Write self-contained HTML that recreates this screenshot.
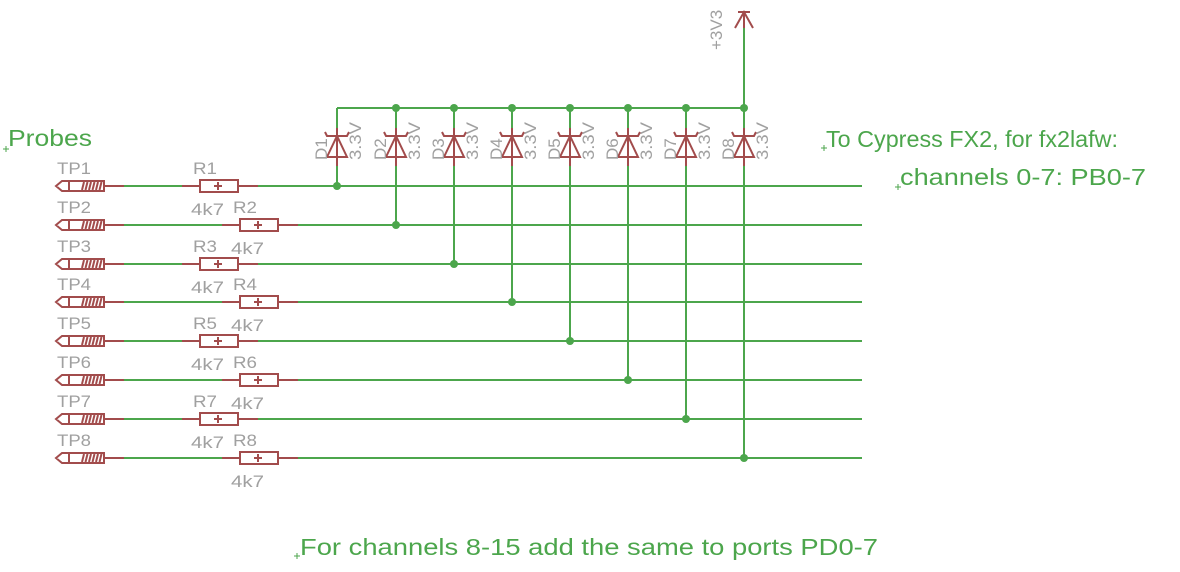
<!DOCTYPE html>
<html><head><meta charset="utf-8"><style>
body{margin:0;background:#fff;}
svg{display:block;font-family:"Liberation Sans",sans-serif;}
.g{stroke:#4ca64c;stroke-width:2;fill:none}
.r{stroke:#a24c4c;stroke-width:2;fill:none}
.lab{fill:#a0a0a0;font-size:17px}
.gt{fill:#4ca64c;font-size:23px}
</style></head><body>
<svg id="s" width="1180" height="572">
<text class="gt" x="8" y="146" textLength="84" lengthAdjust="spacingAndGlyphs">Probes</text>
<text class="gt" x="826" y="147" textLength="292" lengthAdjust="spacingAndGlyphs">To Cypress FX2, for fx2lafw:</text>
<text class="gt" x="900" y="185" textLength="246" lengthAdjust="spacingAndGlyphs">channels 0-7: PB0-7</text>
<text class="gt" x="300" y="555" textLength="578" lengthAdjust="spacingAndGlyphs">For channels 8-15 add the same to ports PD0-7</text>
<g class="g">
<path d="M3 149h6M6 146v6M821 148h6M824 145v6M895 187h6M898 184v6M294 556h6M297 553v6" stroke-width="1"/>
</g>
<line class="g" x1="337" y1="108" x2="744" y2="108"/>
<line class="g" x1="744" y1="108" x2="744" y2="28"/>
<path class="r" d="M744 28V12 M735 28L744 12L753 28M738 12h12"/>
<text class="lab" transform="translate(722,50) rotate(-90)">+3V3</text>
<g id="rows"></g>
</svg>
<script>
const rowsY=[186,225,264,302,341,380,419,458];
const diodeX=[337,396,454,512,570,628,686,744];
const NS="http://www.w3.org/2000/svg";
const g=document.getElementById('rows');
function el(t,a,txt){const e=document.createElementNS(NS,t);for(const k in a)e.setAttribute(k,a[k]);if(txt)e.textContent=txt;g.appendChild(e);return e;}
rowsY.forEach((y,i)=>{
  const odd=i%2===0;const n=i+1;
  const rx=odd?200:240;
  let p=el('path',{class:'r',d:`M56 ${y}l6 -5h7v10h-7z M69 ${y-5}h35v10h-35z M104 ${y}h20 M${rx-18} ${y}h18 M${rx+38} ${y}h20 M${rx+14} ${y}h8 M${rx+18} ${y-4}v8`});
  
  
  let spr=el('path',{class:'r','stroke-width':1,d:Array.from({length:6},(_,k)=>`M${82+k*3.5} ${y+4}l2 -8`).join(' ')});
  
  
  let box=el('rect',{class:'r',x:rx,y:y-6,width:38,height:12});
  
  
  let w=el('path',{class:'g',d:`M124 ${y}H${rx-18} M${rx+58} ${y}H862`});
  
  
  let t=el('text',{class:'lab',x:57,y:y-12,textLength:34,lengthAdjust:'spacingAndGlyphs'},'TP'+n);
  
  
  let r=el('text',{class:'lab',x:rx-7,y:y-12,textLength:24,lengthAdjust:'spacingAndGlyphs'},'R'+n);
  
  
  let v=el('text',{class:'lab',x:rx-9,y:y+29,textLength:33,lengthAdjust:'spacingAndGlyphs'},'4k7');
  
  
  const x=diodeX[i];
  let dw=el('path',{class:'g',d:`M${x} 108V128 M${x} 166V${y}`});
  
  
  let d=el('path',{class:'r',d:`M${x} 128V166 M${x-10} 157H${x+10}L${x} 136Z M${x-12} 132l2 4H${x+10}l2 -4`});
  
  
  let dl=el('text',{class:'lab',transform:`translate(${x-10},160) rotate(-90)`},'D'+n);
  
  
  let dv=el('text',{class:'lab',transform:`translate(${x+24},160) rotate(-90)`,textLength:38,lengthAdjust:'spacingAndGlyphs'},'3.3V');
  
  
  let j=el('circle',{cx:x,cy:y,r:4,fill:'#4ca64c'});
  
  
  if(i>0){let j2=el('circle',{cx:x,cy:108,r:4,fill:'#4ca64c'});
  
  }
});
</script>
</body></html>
